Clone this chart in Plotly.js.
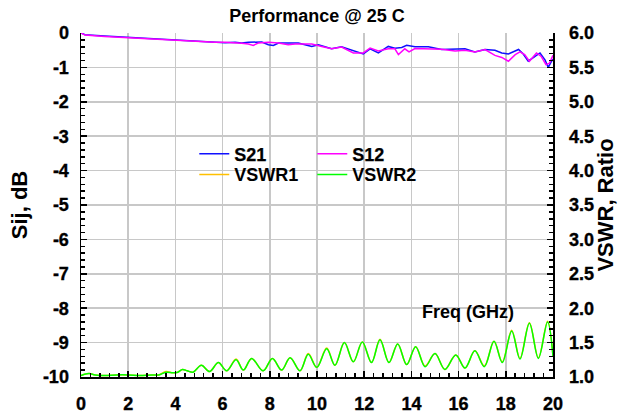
<!DOCTYPE html>
<html>
<head>
<meta charset="utf-8">
<script src="https://cdn.plot.ly/plotly-3.0.1.min.js"></script>
<style>
html,body{margin:0;padding:0;background:#fff;}
#chart{width:618px;height:416px;}
#chart text{font-weight:700 !important;}
#chart .xtick text, #chart .ytick text, #chart .y2tick text{stroke:#000;stroke-width:0.35px;}
#chart .legendtext{stroke:#000;stroke-width:0.25px;}
</style>
</head>
<body>
<div id="chart"></div>
<script>
// S21 (dB)
const s21Freq = [0, 0.17, 1.0, 1.86, 3.0, 3.98, 4.5, 5.0, 5.68, 6.1, 6.53, 6.81, 7.09, 7.37, 7.66, 7.94, 8.15, 8.37, 8.78, 9.21, 9.49, 9.78, 10.06, 10.34, 10.62, 11.04, 11.4, 11.75, 11.96, 12.25, 12.6, 13.02, 13.3, 13.59, 13.8, 14.15, 14.72, 15.28, 15.85, 16.27, 16.69, 17.12, 17.54, 17.83, 18.11, 18.54, 18.74, 18.95, 19.24, 19.45, 19.66, 19.8, 19.94, 20.0];
const s21Vals = [0.0, -0.05, -0.09, -0.12, -0.16, -0.21, -0.22, -0.24, -0.26, -0.28, -0.27, -0.29, -0.27, -0.26, -0.26, -0.34, -0.36, -0.29, -0.29, -0.29, -0.34, -0.39, -0.34, -0.39, -0.46, -0.40, -0.48, -0.58, -0.61, -0.46, -0.58, -0.39, -0.44, -0.42, -0.36, -0.40, -0.40, -0.48, -0.48, -0.46, -0.55, -0.48, -0.50, -0.58, -0.61, -0.48, -0.61, -0.82, -0.68, -0.58, -0.78, -1.0, -0.82, -0.76];
// S12 (dB)
const s12Freq = [0, 0.17, 1.0, 1.86, 3.0, 3.98, 4.5, 5.0, 5.68, 6.1, 6.53, 6.81, 7.09, 7.3, 7.51, 7.94, 8.37, 8.78, 9.07, 9.49, 9.78, 10.2, 10.62, 11.04, 11.4, 11.54, 11.96, 12.25, 12.6, 13.02, 13.3, 13.45, 13.72, 13.9, 14.15, 14.72, 15.28, 15.85, 16.27, 16.69, 17.12, 17.54, 17.83, 18.11, 18.4, 18.6, 18.8, 19.0, 19.3, 19.5, 19.7, 19.85, 20.0];
const s12Vals = [0.0, -0.06, -0.10, -0.13, -0.17, -0.22, -0.24, -0.25, -0.27, -0.27, -0.28, -0.30, -0.32, -0.36, -0.29, -0.27, -0.29, -0.34, -0.32, -0.32, -0.32, -0.39, -0.46, -0.41, -0.52, -0.58, -0.58, -0.44, -0.52, -0.46, -0.46, -0.63, -0.46, -0.55, -0.45, -0.47, -0.47, -0.52, -0.50, -0.55, -0.48, -0.65, -0.71, -0.82, -0.63, -0.55, -0.63, -0.82, -0.58, -0.68, -0.92, -0.88, -0.65];
// VSWR (ratio)
const vswrFreq = [0, 0.15, 0.35, 0.6, 1.0, 1.5, 2.0, 2.5, 3.0, 3.3, 3.6, 3.9, 4.1, 4.3, 4.5, 4.75, 5.1, 5.45, 5.82, 6.17, 6.57, 6.88, 7.23, 7.72, 8.11, 8.5, 8.86, 9.28, 9.63, 9.99, 10.41, 10.76, 11.16, 11.54, 11.92, 12.31, 12.67, 13.05, 13.42, 13.8, 14.18, 14.58, 15.0, 15.42, 15.88, 16.27, 16.69, 17.09, 17.5, 17.85, 18.25, 18.6, 19.0, 19.38, 19.77, 20.0];
const vswr1Vals = [1.02, 1.04, 1.05, 1.03, 1.02, 1.03, 1.03, 1.02, 1.03, 1.03, 1.08, 1.06, 1.07, 1.11, 1.09, 1.07, 1.17, 1.08, 1.21, 1.09, 1.26, 1.10, 1.27, 1.09, 1.27, 1.10, 1.28, 1.09, 1.34, 1.14, 1.42, 1.17, 1.50, 1.22, 1.51, 1.21, 1.55, 1.21, 1.48, 1.18, 1.44, 1.16, 1.34, 1.11, 1.32, 1.13, 1.38, 1.16, 1.52, 1.22, 1.68, 1.27, 1.79, 1.28, 1.81, 1.30];
const vswr2Vals = [1.02, 1.04, 1.05, 1.03, 1.02, 1.03, 1.03, 1.02, 1.03, 1.03, 1.07, 1.06, 1.07, 1.11, 1.09, 1.07, 1.17, 1.08, 1.21, 1.09, 1.25, 1.10, 1.27, 1.09, 1.27, 1.10, 1.28, 1.09, 1.33, 1.14, 1.41, 1.17, 1.50, 1.22, 1.51, 1.21, 1.54, 1.21, 1.48, 1.18, 1.44, 1.15, 1.34, 1.11, 1.32, 1.13, 1.38, 1.15, 1.52, 1.21, 1.67, 1.26, 1.78, 1.27, 1.80, 1.30];

// Tick labels
const xTickVals = [0, 2, 4, 6, 8, 10, 12, 14, 16, 18, 20];
const xTickText = ['0', '2', '4', '6', '8', '10', '12', '14', '16', '18', '20'];
const yTickVals = [0, -1, -2, -3, -4, -5, -6, -7, -8, -9, -10];
const yTickText = ['0', '-1', '-2', '-3', '-4', '-5', '-6', '-7', '-8', '-9', '-10'];
const y2TickVals = [1.0, 1.5, 2.0, 2.5, 3.0, 3.5, 4.0, 4.5, 5.0, 5.5, 6.0];
const y2TickText = ['1.0', '1.5', '2.0', '2.5', '3.0', '3.5', '4.0', '4.5', '5.0', '5.5', '6.0'];

const FONT = 'Liberation Sans, Arial, sans-serif';
const traces = [
  {x: s21Freq, y: s21Vals, name: 'S21', type: 'scatter', mode: 'lines', line: {color: '#1010ff', width: 1.5}, legend: 'legend'},
  {x: s12Freq, y: s12Vals, name: 'S12', type: 'scatter', mode: 'lines', line: {color: '#ff00ff', width: 1.5}, legend: 'legend'},
  {x: vswrFreq, y: vswr1Vals, name: 'VSWR1', type: 'scatter', mode: 'lines', line: {color: '#ffc000', width: 1.5, shape: 'spline'}, yaxis: 'y2', legend: 'legend2'},
  {x: vswrFreq, y: vswr2Vals, name: 'VSWR2', type: 'scatter', mode: 'lines', line: {color: '#00ff00', width: 1.5, shape: 'spline'}, yaxis: 'y2', legend: 'legend2'}
];

const legendCommon = {orientation: 'h', xanchor: 'left', yanchor: 'middle', bgcolor: 'rgba(0,0,0,0)',
  font: {family: FONT, size: 18, color: '#000', weight: 'bold'}, entrywidth: 73, entrywidthmode: 'pixels', itemwidth: 30};

const tickFont = {family: FONT, size: 18, color: '#000', weight: 'bold'};
const layout = {
  width: 618, height: 416,
  margin: {l: 81, r: 65, t: 33, b: 39},
  paper_bgcolor: '#fff', plot_bgcolor: '#fff',
  font: {family: FONT, size: 15, color: '#000', weight: 'bold'},
  title: {text: 'Performance @ 25 C', font: {family: FONT, size: 18, weight: 'bold'}, x: 0.513, xanchor: 'center', y: 0.963, yanchor: 'middle'},
  showlegend: true,
  legend: Object.assign({}, legendCommon, {x: 0.24, y: 0.648}),
  legend2: Object.assign({}, legendCommon, {x: 0.24, y: 0.588}),
  xaxis: {range: [0, 20], tickmode: 'array', tickvals: xTickVals, ticktext: xTickText, showgrid: true, gridcolor: '#c8c8c8', gridwidth: 1.5,
    zeroline: false, showline: true, linecolor: '#000', linewidth: 1.5, mirror: false,
    ticks: 'inside', ticklen: 6, tickcolor: '#000', tickwidth: 1.5, ticklabelstandoff: 10,
    minor: {dtick: 0.4, tick0: 0, ticks: 'inside', ticklen: 4, tickcolor: '#000', showgrid: false},
    tickfont: tickFont, fixedrange: true},
  yaxis: {range: [-10, 0], tickmode: 'array', tickvals: yTickVals, ticktext: yTickText, showgrid: true, gridcolor: '#c8c8c8', gridwidth: 1.5,
    zeroline: false, showline: true, linecolor: '#000', linewidth: 1.5,
    ticks: 'inside', ticklen: 6, tickcolor: '#000', tickwidth: 1.5, ticklabelstandoff: 7,
    minor: {dtick: 0.2, tick0: 0, ticks: 'inside', ticklen: 4, tickcolor: '#000', showgrid: false},
    tickfont: tickFont,
    title: {text: 'Sij, dB', font: {family: FONT, size: 22, weight: 'bold'}, standoff: 9}, fixedrange: true},
  yaxis2: {range: [1, 6], tickmode: 'array', tickvals: y2TickVals, ticktext: y2TickText, overlaying: 'y', side: 'right', showgrid: false,
    zeroline: false, showline: true, linecolor: '#000', linewidth: 1.5,
    ticks: 'inside', ticklen: 6, tickcolor: '#000', tickwidth: 1.5, ticklabelstandoff: 11,
    minor: {dtick: 0.1, tick0: 1, ticks: 'inside', ticklen: 4, tickcolor: '#000', showgrid: false},
    tickfont: tickFont,
    title: {text: 'VSWR, Ratio', font: {family: FONT, size: 22, weight: 'bold'}, standoff: 7}, fixedrange: true},
  annotations: [{text: 'Freq (GHz)', x: 16.4, y: -8.11, xref: 'x', yref: 'y', showarrow: false,
    font: {family: FONT, size: 18, weight: 'bold'}, xanchor: 'center', yanchor: 'middle'}]
};

Plotly.newPlot('chart', traces, layout, {displayModeBar: false, staticPlot: true});
</script>
</body>
</html>
